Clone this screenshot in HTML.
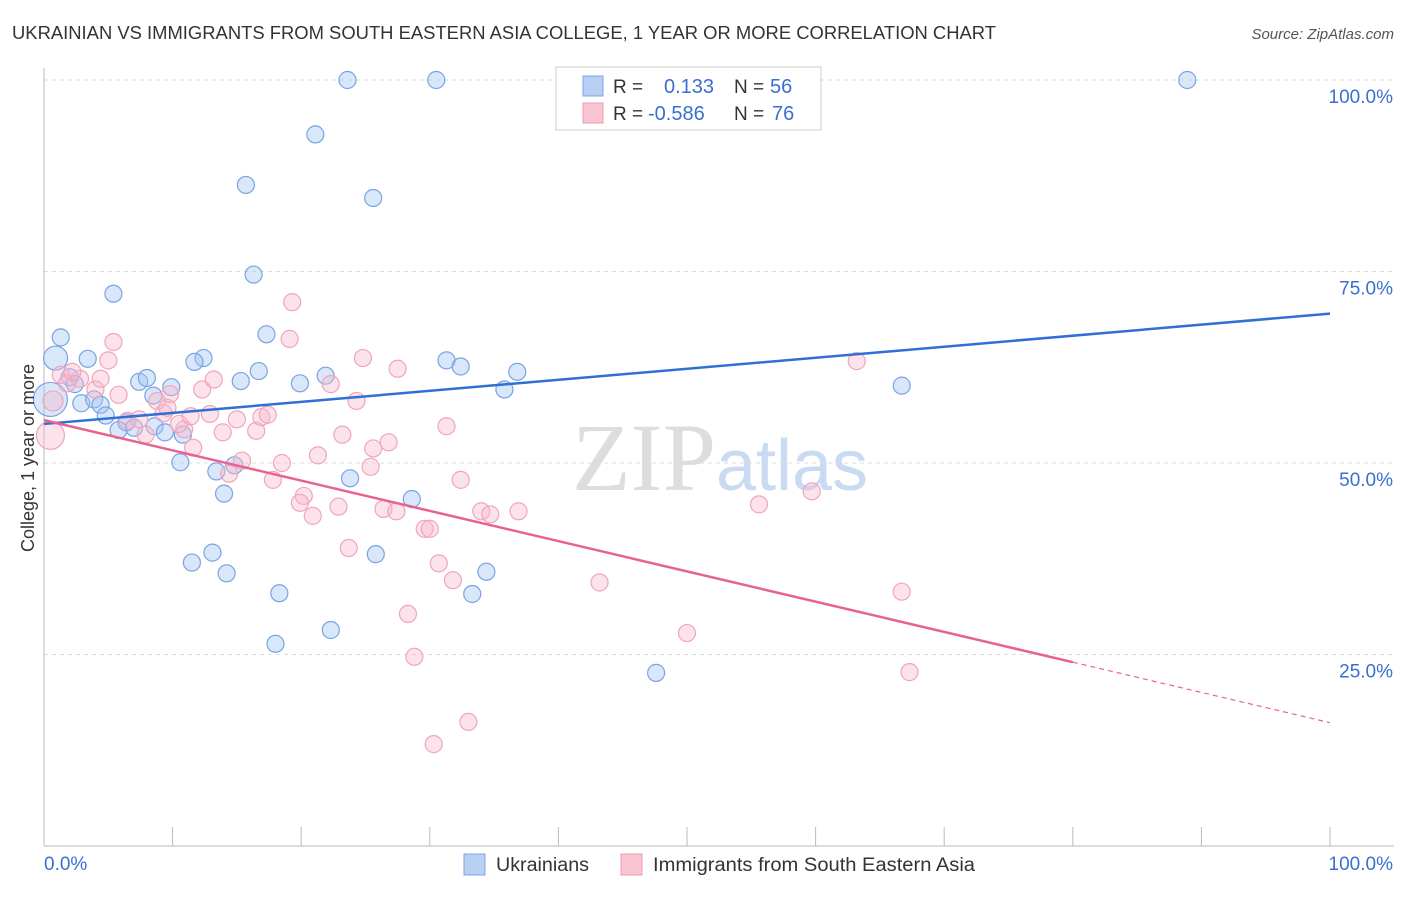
<!DOCTYPE html>
<html><head><meta charset="utf-8"><style>
body{margin:0;background:#fff;font-family:"Liberation Sans",sans-serif;}
</style></head><body>
<svg id="chart" width="1406" height="892" xmlns="http://www.w3.org/2000/svg" font-family="Liberation Sans, sans-serif">
<text x="12" y="39" font-size="18" fill="#333" textLength="984" lengthAdjust="spacingAndGlyphs">UKRAINIAN VS IMMIGRANTS FROM SOUTH EASTERN ASIA COLLEGE, 1 YEAR OR MORE CORRELATION CHART</text>
<text x="1394" y="39" font-size="15" fill="#555" text-anchor="end" font-style="italic">Source: ZipAtlas.com</text>
<text x="720" y="490" font-size="96" text-anchor="middle" fill="#ddd" font-family="Liberation Serif, serif">ZIP<tspan fill="#c9daf3" font-family="Liberation Sans, sans-serif" font-size="72">atlas</tspan></text>
<g id="grid"></g>
<g id="marks"></g>
<text transform="translate(34,458) rotate(-90)" font-size="18" fill="#333" text-anchor="middle">College, 1 year or more</text>
<g>
<rect x="556" y="67" width="265" height="63" fill="#fff" stroke="#ccc"/>
<rect x="583" y="76" width="20" height="20" fill="#b8d0f3" stroke="#7ca4e4"/>
<rect x="583" y="103" width="20" height="20" fill="#f9c5d3" stroke="#ee9ab2"/>
<text x="613" y="93" font-size="19" fill="#333">R =</text><text x="664" y="93" font-size="20" fill="#3a6fd1">0.133</text>
<text x="734" y="93" font-size="19" fill="#333">N =</text><text x="770" y="93" font-size="20" fill="#3a6fd1">56</text>
<text x="613" y="120" font-size="19" fill="#333">R =</text><text x="648" y="120" font-size="20" fill="#3a6fd1">-0.586</text>
<text x="734" y="120" font-size="19" fill="#333">N =</text><text x="772" y="120" font-size="20" fill="#3a6fd1">76</text>
</g>
<g>
<rect x="464" y="854" width="21" height="21" fill="#b8d0f3" stroke="#7ca4e4"/>
<text x="496" y="871" font-size="19" fill="#333" textLength="93" lengthAdjust="spacingAndGlyphs">Ukrainians</text>
<rect x="621" y="854" width="21" height="21" fill="#f9c5d3" stroke="#ee9ab2"/>
<text x="653" y="871" font-size="19" fill="#333" textLength="322" lengthAdjust="spacingAndGlyphs">Immigrants from South Eastern Asia</text>
</g>
</svg>
<script>
const yTicks=[25,50,75,100];
const yTickLabels=["25.0%","50.0%","75.0%","100.0%"];
const blueX=[23.6,30.5,88.9,21.1,15.7,25.6,16.3,5.4,17.3,1.3,0.9,3.4,12.4,11.7,2.0,2.4,19.9,21.9,31.3,32.4,36.8,7.4,8.0,9.9,15.3,16.7,35.8,66.7,0.5,2.9,3.9,4.4,8.5,4.8,6.4,8.6,9.4,5.8,7.0,10.8,10.6,13.4,14.8,14.0,23.8,28.6,13.1,11.5,14.2,25.8,34.4,18.3,33.3,22.3,18.0,47.6];
const blueY=[100,100,100,92.9,86.3,84.6,74.6,72.1,66.8,66.4,63.7,63.6,63.7,63.2,61.2,60.3,60.4,61.4,63.4,62.6,61.9,60.6,61.1,59.9,60.7,62.0,59.6,60.1,58.3,57.8,58.3,57.6,58.8,56.2,55.3,54.8,54.0,54.3,54.6,53.7,50.1,48.9,49.7,46.0,48.0,45.3,38.3,37.0,35.6,38.1,35.8,33.0,32.9,28.2,26.4,22.6];
const pinkX=[0.5,0.7,1.3,1.8,2.8,2.2,4.0,5.0,5.4,4.4,5.8,6.5,7.4,7.9,8.8,9.3,9.6,9.8,10.9,11.6,10.5,11.4,12.3,13.2,12.9,13.9,15.0,15.4,14.4,16.5,16.9,17.4,19.3,19.1,22.3,24.3,24.8,27.5,18.5,17.8,21.3,20.2,19.9,20.9,23.2,22.9,25.6,26.8,25.4,26.4,27.4,31.3,32.4,29.6,30.0,34.0,34.7,36.9,23.7,30.7,31.8,28.3,28.8,43.2,50.0,55.6,59.7,63.2,66.7,67.3,33.0,30.3];
const pinkY=[53.6,58.1,61.5,60.4,61.0,61.9,59.6,63.4,65.8,61.0,58.9,55.5,55.7,53.7,58.1,56.5,57.2,59.0,54.4,52.0,55.1,56.1,59.6,60.9,56.4,54.0,55.7,50.3,48.6,54.2,56.0,56.3,71.0,66.2,60.3,58.1,63.7,62.3,50.0,47.8,51.0,45.7,44.8,43.1,53.7,44.3,51.9,52.7,49.5,44.0,43.7,54.8,47.8,41.4,41.4,43.7,43.3,43.7,38.9,36.9,34.7,30.3,24.7,34.4,27.8,44.6,46.3,63.3,33.2,22.7,16.2,13.3];
const svgNS="http://www.w3.org/2000/svg";
const X0=44,X1=1330,Y0=846,Y100=80;
function sx(v){return X0+(X1-X0)*v/100;}
function sy(v){return Y0-(Y0-Y100)*v/100;}
const grid=document.getElementById('grid'),marks=document.getElementById('marks');
function mk(tag,attrs,parent){const e=document.createElementNS(svgNS,tag);for(const k in attrs)e.setAttribute(k,attrs[k]);parent.appendChild(e);return e;}
yTicks.forEach((t,i)=>{
  const l=mk('line',{x1:X0,x2:1394,y1:sy(t),y2:sy(t),stroke:'#ddd','stroke-dasharray':'4,4'},grid);
  
  
  const tx=mk('text',{x:1393,y:sy(t)+23,'text-anchor':'end','font-size':19,fill:'#3a6fd1'},grid);
  tx.textContent=yTickLabels[i];
  
  
});
const ax=mk('line',{x1:X0,x2:1394,y1:Y0,y2:Y0,stroke:'#bbb'},grid);


const ay=mk('line',{x1:X0,x2:X0,y1:68,y2:Y0,stroke:'#bbb'},grid);


for(let i=0;i<=10;i++){const t=mk('line',{x1:sx(i*10),x2:sx(i*10),y1:Y0-19,y2:Y0,stroke:'#bbb'},grid);
  
  }
const xl0=mk('text',{x:44,y:870,'font-size':19,fill:'#3a6fd1'},grid);xl0.textContent='0.0%';


const xl1=mk('text',{x:1393,y:870,'font-size':19,fill:'#3a6fd1','text-anchor':'end'},grid);xl1.textContent='100.0%';


function radius(i,series){if(series==='b'){if(i===28)return 17;if(i===10)return 12;}else{if(i===0)return 14;if(i===1)return 10;}return 8.5;}
blueX.forEach((v,i)=>{const c=mk('circle',{cx:sx(v),cy:sy(blueY[i]),r:radius(i,'b'),fill:'rgba(160,195,242,0.4)',stroke:'#7aa3e3','stroke-width':1.2},marks);
  
  });
pinkX.forEach((v,i)=>{const c=mk('circle',{cx:sx(v),cy:sy(pinkY[i]),r:radius(i,'p'),fill:'rgba(248,185,205,0.4)',stroke:'#f0a5bb','stroke-width':1.2},marks);
  
  });
const bf=[55.1,0.144], pf=[55.6,-0.395];
const bl=mk('line',{x1:sx(0),y1:sy(bf[0]),x2:sx(100),y2:sy(bf[0]+bf[1]*100),stroke:'#2f6fd6','stroke-width':2.5},marks);


const pl=mk('line',{x1:sx(0),y1:sy(pf[0]),x2:sx(80),y2:sy(pf[0]+pf[1]*80),stroke:'#e8628f','stroke-width':2.5},marks);


const pd=mk('line',{x1:sx(80),y1:sy(pf[0]+pf[1]*80),x2:sx(100),y2:sy(pf[0]+pf[1]*100),stroke:'#e8628f','stroke-width':1.2,'stroke-dasharray':'5,4'},marks);


</script>
</body></html>
